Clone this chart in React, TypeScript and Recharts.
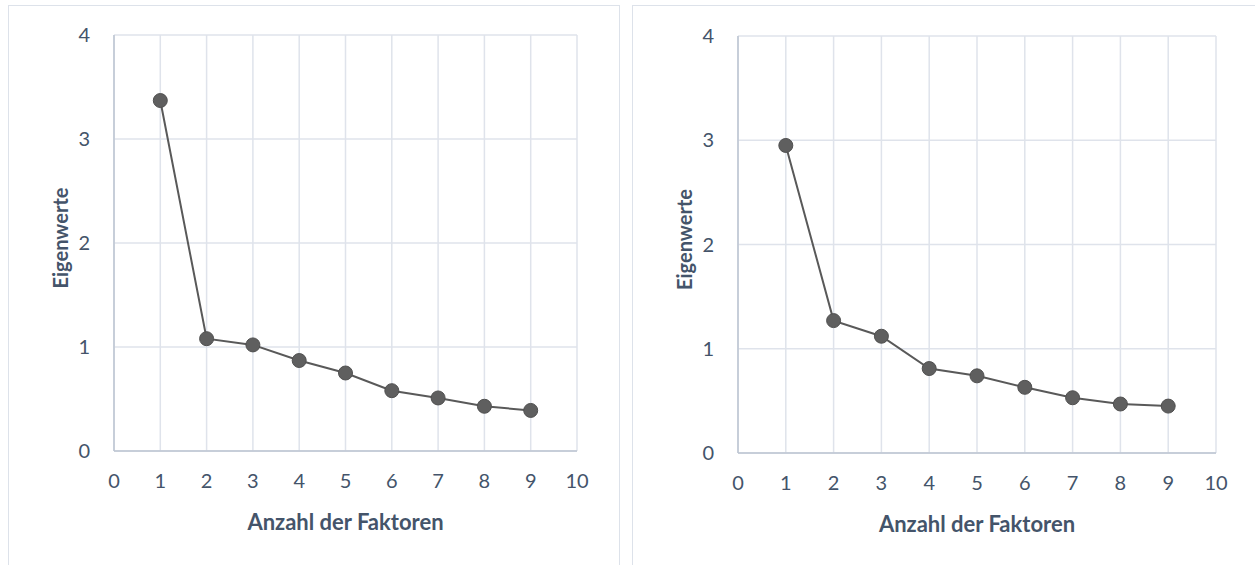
import React from "react";
import { CartesianGrid, Line, LineChart, XAxis, YAxis } from "recharts";

const factors = [1, 2, 3, 4, 5, 6, 7, 8, 9];
const eigenLeft = [3.37, 1.08, 1.02, 0.87, 0.75, 0.58, 0.51, 0.43, 0.39];
const eigenRight = [2.95, 1.27, 1.12, 0.81, 0.74, 0.63, 0.53, 0.47, 0.45];
const xTicks = [0, 1, 2, 3, 4, 5, 6, 7, 8, 9, 10];
const yTicks = [0, 1, 2, 3, 4];

const textColor = "#44546a";
const font = "Lato, 'Open Sans', sans-serif";

const toRows = (vals: number[]) => factors.map((f, i) => ({ x: f, y: vals[i] }));

const xTitle = (props: any) => {
	const vb = props.viewBox;
	return (
		<text
			x={vb.x + vb.width / 2}
			y={vb.y + 70}
			textAnchor="middle"
			dominantBaseline="central"
			fill={textColor}
			fontFamily={font}
			fontWeight="bold"
			fontSize={22}
		>
			Anzahl der Faktoren
		</text>
	);
};

const yTitle = (props: any) => {
	const vb = props.viewBox;
	const cx = vb.x + vb.width - 54;
	const cy = vb.y + vb.height / 2 - 5;
	return (
		<text
			x={cx}
			y={cy}
			transform={`rotate(-90 ${cx} ${cy})`}
			textAnchor="middle"
			dominantBaseline="central"
			fill={textColor}
			fontFamily={font}
			fontWeight="bold"
			fontSize={20}
		>
			Eigenwerte
		</text>
	);
};

interface PanelProps {
	data: { x: number; y: number }[];
	width: number;
	axisWidth: number;
	top: number;
	right: number;
	bottom: number;
}

const Scree: React.FC<PanelProps> = ({ data, width, axisWidth, top, right, bottom }) => (
	<LineChart
		width={width}
		height={565}
		data={data}
		margin={{ top: top, right: right, left: 0, bottom: 0 }}
	>
		<CartesianGrid stroke="#dfe3eb" strokeWidth={1.5} />
		<XAxis
			dataKey="x"
			type="number"
			domain={[0, 10]}
			ticks={xTicks}
			interval={0}
			height={bottom}
			tickSize={0}
			tickMargin={23}
			tickLine={false}
			axisLine={{ stroke: "#bcc4d2", strokeWidth: 1.5 }}
			tick={{ fill: textColor, fontSize: 20, fontFamily: font }}
			label={xTitle}
		/>
		<YAxis
			type="number"
			domain={[0, 4]}
			ticks={yTicks}
			interval={0}
			width={axisWidth}
			tickSize={0}
			tickMargin={24}
			tickLine={false}
			axisLine={{ stroke: "#bcc4d2", strokeWidth: 1.5 }}
			tick={{ fill: textColor, fontSize: 20, fontFamily: font }}
			label={yTitle}
		/>
		<Line
			dataKey="y"
			type="linear"
			stroke="#595959"
			strokeWidth={2}
			dot={{ r: 7, fill: "#5f5f5f", stroke: "#505050", strokeWidth: 1 }}
			isAnimationActive={false}
		/>
	</LineChart>
);

export default function App() {
	return (
		<div style={{ position: "absolute", left: 0, top: 0, width: 1255, height: 565, overflow: "hidden", background: "#fff" }}>
			<div style={{ position: "absolute", left: 8, top: 5, width: 610, height: 600, border: "1.5px solid #dde2ea" }} />
			<div style={{ position: "absolute", left: 632, top: 5, width: 640, height: 600, border: "1.5px solid #dde2ea" }} />
			<div style={{ position: "absolute", left: 0, top: 0 }}>
				<Scree data={toRows(eigenLeft)} width={620} axisWidth={114} top={35} right={43} bottom={114} />
			</div>
			<div style={{ position: "absolute", left: 620, top: 0 }}>
				<Scree data={toRows(eigenRight)} width={635} axisWidth={118} top={36} right={39} bottom={112} />
			</div>
		</div>
	);
}
